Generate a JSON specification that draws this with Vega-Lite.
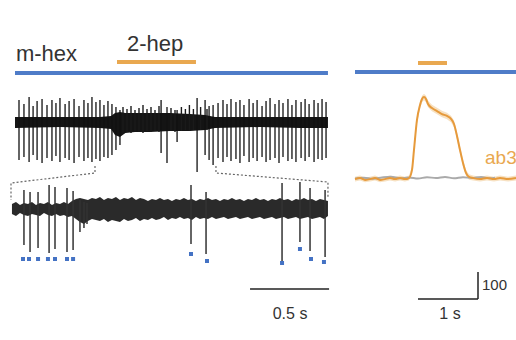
{
  "$schema": "https://vega.github.io/schema/vega-lite/v6.json",
  "padding": 0,
  "spacing": 0,
  "background": "white",
  "config": {"view": {"stroke": null}, "concat": {"spacing": 0}},
  "datasets": {
    "topBand": [
      {"t": 0, "hi": 223, "lo": 212}, {"t": 0.281, "hi": 223, "lo": 213}, {"t": 0.531, "hi": 223, "lo": 212},
      {"t": 0.6, "hi": 224, "lo": 211}, {"t": 0.625, "hi": 227, "lo": 205}, {"t": 0.656, "hi": 228, "lo": 203},
      {"t": 0.69, "hi": 227, "lo": 207}, {"t": 0.75, "hi": 227, "lo": 208}, {"t": 0.844, "hi": 227, "lo": 208},
      {"t": 0.969, "hi": 227, "lo": 209}, {"t": 1.094, "hi": 226, "lo": 209}, {"t": 1.188, "hi": 225, "lo": 210},
      {"t": 1.25, "hi": 223, "lo": 212}, {"t": 1.531, "hi": 223, "lo": 213}, {"t": 1.781, "hi": 223, "lo": 212},
      {"t": 1.956, "hi": 223, "lo": 212}
    ],
    "topSpikes": [
      {"t": 0.025, "hi": 240, "lo": 180}, {"t": 0.056, "hi": 236, "lo": 183}, {"t": 0.088, "hi": 243, "lo": 178},
      {"t": 0.113, "hi": 234, "lo": 185}, {"t": 0.138, "hi": 239, "lo": 180}, {"t": 0.169, "hi": 241, "lo": 177},
      {"t": 0.2, "hi": 235, "lo": 182}, {"t": 0.231, "hi": 240, "lo": 179}, {"t": 0.256, "hi": 237, "lo": 184},
      {"t": 0.281, "hi": 242, "lo": 178}, {"t": 0.313, "hi": 236, "lo": 182}, {"t": 0.338, "hi": 239, "lo": 180},
      {"t": 0.369, "hi": 241, "lo": 177}, {"t": 0.4, "hi": 234, "lo": 183}, {"t": 0.431, "hi": 240, "lo": 179},
      {"t": 0.456, "hi": 237, "lo": 182}, {"t": 0.481, "hi": 243, "lo": 178}, {"t": 0.506, "hi": 238, "lo": 181},
      {"t": 0.531, "hi": 240, "lo": 179}, {"t": 0.556, "hi": 235, "lo": 183}, {"t": 0.581, "hi": 239, "lo": 182},
      {"t": 0.606, "hi": 236, "lo": 185}, {"t": 0.631, "hi": 233, "lo": 190}, {"t": 0.656, "hi": 230, "lo": 195},
      {"t": 0.913, "hi": 240, "lo": 187}, {"t": 0.95, "hi": 233, "lo": 177}, {"t": 1.013, "hi": 230, "lo": 198},
      {"t": 1.138, "hi": 242, "lo": 168}, {"t": 1.188, "hi": 240, "lo": 185}, {"t": 1.213, "hi": 234, "lo": 180},
      {"t": 1.238, "hi": 235, "lo": 175}, {"t": 1.269, "hi": 237, "lo": 182}, {"t": 1.3, "hi": 240, "lo": 178},
      {"t": 1.325, "hi": 236, "lo": 183}, {"t": 1.35, "hi": 241, "lo": 179}, {"t": 1.381, "hi": 238, "lo": 181},
      {"t": 1.406, "hi": 240, "lo": 177}, {"t": 1.431, "hi": 235, "lo": 184}, {"t": 1.463, "hi": 241, "lo": 178},
      {"t": 1.488, "hi": 237, "lo": 182}, {"t": 1.513, "hi": 240, "lo": 179}, {"t": 1.544, "hi": 234, "lo": 183},
      {"t": 1.569, "hi": 239, "lo": 178}, {"t": 1.594, "hi": 242, "lo": 180}, {"t": 1.625, "hi": 236, "lo": 182},
      {"t": 1.65, "hi": 240, "lo": 177}, {"t": 1.675, "hi": 237, "lo": 183}, {"t": 1.706, "hi": 241, "lo": 179},
      {"t": 1.731, "hi": 235, "lo": 181}, {"t": 1.756, "hi": 240, "lo": 178}, {"t": 1.788, "hi": 238, "lo": 182},
      {"t": 1.813, "hi": 241, "lo": 179}, {"t": 1.838, "hi": 236, "lo": 183}, {"t": 1.869, "hi": 240, "lo": 178},
      {"t": 1.894, "hi": 237, "lo": 181}, {"t": 1.919, "hi": 241, "lo": 180}, {"t": 1.944, "hi": 238, "lo": 182}
    ],
    "topSmall": [
      {"t": 0.675, "hi": 233, "lo": 206}, {"t": 0.7, "hi": 231, "lo": 208}, {"t": 0.725, "hi": 234, "lo": 207},
      {"t": 0.75, "hi": 230, "lo": 209}, {"t": 0.775, "hi": 232, "lo": 208}, {"t": 0.8, "hi": 235, "lo": 207},
      {"t": 0.825, "hi": 231, "lo": 209}, {"t": 0.85, "hi": 233, "lo": 208}, {"t": 0.875, "hi": 230, "lo": 209},
      {"t": 0.9, "hi": 234, "lo": 208}, {"t": 0.975, "hi": 232, "lo": 209}, {"t": 1.0, "hi": 230, "lo": 208},
      {"t": 1.04, "hi": 233, "lo": 209}, {"t": 1.065, "hi": 231, "lo": 210}, {"t": 1.09, "hi": 235, "lo": 209},
      {"t": 1.115, "hi": 231, "lo": 210}, {"t": 1.16, "hi": 233, "lo": 210}, {"t": 1.2, "hi": 231, "lo": 210}
    ],
    "botBand": [
      {"t": -0.019, "hi": 136, "lo": 126}, {"t": 0.006, "hi": 138, "lo": 124}, {"t": 0.031, "hi": 135, "lo": 127},
      {"t": 0.056, "hi": 137, "lo": 125}, {"t": 0.081, "hi": 136, "lo": 124}, {"t": 0.106, "hi": 138, "lo": 126},
      {"t": 0.131, "hi": 135, "lo": 125}, {"t": 0.156, "hi": 137, "lo": 124}, {"t": 0.181, "hi": 136, "lo": 127},
      {"t": 0.206, "hi": 138, "lo": 125}, {"t": 0.231, "hi": 135, "lo": 124}, {"t": 0.256, "hi": 137, "lo": 126},
      {"t": 0.281, "hi": 136, "lo": 124}, {"t": 0.306, "hi": 138, "lo": 125}, {"t": 0.331, "hi": 136, "lo": 123},
      {"t": 0.356, "hi": 139, "lo": 124}, {"t": 0.381, "hi": 141, "lo": 121}, {"t": 0.406, "hi": 142, "lo": 118},
      {"t": 0.431, "hi": 141, "lo": 116}, {"t": 0.456, "hi": 140, "lo": 119}, {"t": 0.481, "hi": 142, "lo": 121},
      {"t": 0.506, "hi": 141, "lo": 120}, {"t": 0.531, "hi": 143, "lo": 119}, {"t": 0.556, "hi": 140, "lo": 121},
      {"t": 0.581, "hi": 142, "lo": 118}, {"t": 0.606, "hi": 141, "lo": 120}, {"t": 0.631, "hi": 143, "lo": 119},
      {"t": 0.656, "hi": 140, "lo": 118}, {"t": 0.681, "hi": 142, "lo": 121}, {"t": 0.706, "hi": 141, "lo": 119},
      {"t": 0.731, "hi": 143, "lo": 120}, {"t": 0.756, "hi": 140, "lo": 122}, {"t": 0.781, "hi": 142, "lo": 119},
      {"t": 0.806, "hi": 141, "lo": 121}, {"t": 0.831, "hi": 139, "lo": 120}, {"t": 0.856, "hi": 141, "lo": 122},
      {"t": 0.881, "hi": 140, "lo": 120}, {"t": 0.906, "hi": 142, "lo": 121}, {"t": 0.931, "hi": 140, "lo": 123},
      {"t": 0.956, "hi": 141, "lo": 120}, {"t": 0.981, "hi": 139, "lo": 122}, {"t": 1.006, "hi": 141, "lo": 121},
      {"t": 1.031, "hi": 140, "lo": 123}, {"t": 1.056, "hi": 142, "lo": 121}, {"t": 1.081, "hi": 140, "lo": 122},
      {"t": 1.106, "hi": 141, "lo": 120}, {"t": 1.131, "hi": 139, "lo": 123}, {"t": 1.156, "hi": 141, "lo": 121},
      {"t": 1.181, "hi": 140, "lo": 122}, {"t": 1.206, "hi": 142, "lo": 121}, {"t": 1.231, "hi": 140, "lo": 123},
      {"t": 1.256, "hi": 141, "lo": 121}, {"t": 1.281, "hi": 139, "lo": 122}, {"t": 1.306, "hi": 141, "lo": 123},
      {"t": 1.331, "hi": 140, "lo": 121}, {"t": 1.356, "hi": 142, "lo": 122}, {"t": 1.381, "hi": 140, "lo": 123},
      {"t": 1.406, "hi": 141, "lo": 121}, {"t": 1.431, "hi": 139, "lo": 122}, {"t": 1.456, "hi": 141, "lo": 123},
      {"t": 1.481, "hi": 140, "lo": 121}, {"t": 1.506, "hi": 142, "lo": 122}, {"t": 1.531, "hi": 140, "lo": 123},
      {"t": 1.556, "hi": 141, "lo": 121}, {"t": 1.581, "hi": 139, "lo": 122}, {"t": 1.606, "hi": 141, "lo": 123},
      {"t": 1.631, "hi": 140, "lo": 121}, {"t": 1.656, "hi": 142, "lo": 122}, {"t": 1.681, "hi": 140, "lo": 123},
      {"t": 1.706, "hi": 141, "lo": 121}, {"t": 1.731, "hi": 139, "lo": 122}, {"t": 1.756, "hi": 141, "lo": 123},
      {"t": 1.781, "hi": 140, "lo": 121}, {"t": 1.806, "hi": 142, "lo": 122}, {"t": 1.831, "hi": 140, "lo": 123},
      {"t": 1.856, "hi": 141, "lo": 121}, {"t": 1.881, "hi": 139, "lo": 122}, {"t": 1.906, "hi": 141, "lo": 123},
      {"t": 1.931, "hi": 140, "lo": 121}, {"t": 1.956, "hi": 139, "lo": 124}
    ],
    "botSpikes": [
      {"t": 0.056, "hi": 150, "lo": 95}, {"t": 0.094, "hi": 148, "lo": 88}, {"t": 0.144, "hi": 148, "lo": 92},
      {"t": 0.213, "hi": 155, "lo": 87}, {"t": 0.25, "hi": 153, "lo": 91}, {"t": 0.325, "hi": 152, "lo": 88},
      {"t": 0.363, "hi": 149, "lo": 90}, {"t": 0.406, "hi": 140, "lo": 108}, {"t": 0.431, "hi": 138, "lo": 112},
      {"t": 0.45, "hi": 137, "lo": 116}, {"t": 1.1, "hi": 155, "lo": 96}, {"t": 1.194, "hi": 148, "lo": 86},
      {"t": 1.669, "hi": 157, "lo": 77}, {"t": 1.781, "hi": 158, "lo": 98}, {"t": 1.844, "hi": 152, "lo": 89},
      {"t": 1.938, "hi": 150, "lo": 83}
    ],
    "marks": [
      {"t": 0.05, "level": 81}, {"t": 0.0875, "level": 81}, {"t": 0.144, "level": 81}, {"t": 0.206, "level": 81},
      {"t": 0.25, "level": 81}, {"t": 0.325, "level": 81}, {"t": 0.363, "level": 81}, {"t": 1.1, "level": 86},
      {"t": 1.2, "level": 79}, {"t": 1.669, "level": 77}, {"t": 1.781, "level": 91}, {"t": 1.85, "level": 81},
      {"t": 1.931, "level": 78}
    ],
    "zoomLines": [
      {"path": "left", "o": 1, "t": 0.5, "level": 174}, {"path": "left", "o": 2, "t": 0.5, "level": 167},
      {"path": "left", "o": 3, "t": -0.025, "level": 157}, {"path": "left", "o": 4, "t": -0.025, "level": 140},
      {"path": "right", "o": 1, "t": 1.256, "level": 174}, {"path": "right", "o": 2, "t": 1.256, "level": 167},
      {"path": "right", "o": 3, "t": 1.956, "level": 158}, {"path": "right", "o": 4, "t": 1.956, "level": 143}
    ],
    "stimLeft": [
      {"odor": "m-hex", "t": 0, "t2": 1.956, "level": 267},
      {"odor": "2-hep", "t": 0.6375, "t2": 1.131, "level": 278}
    ],
    "labelsLeft": [
      {"label": "m-hex", "t": 0.006, "level": 279},
      {"label": "2-hep", "t": 0.7, "level": 289}
    ],
    "rateOrange": [
      {"t": 0, "r": 7, "lo": -2, "hi": 16}, {"t": 0.083, "r": 11, "lo": 2, "hi": 20}, {"t": 0.167, "r": 4, "lo": -5, "hi": 13},
      {"t": 0.25, "r": 7, "lo": -2, "hi": 16}, {"t": 0.333, "r": 11, "lo": 2, "hi": 20}, {"t": 0.417, "r": 4, "lo": -5, "hi": 13},
      {"t": 0.5, "r": 7, "lo": -2, "hi": 16}, {"t": 0.583, "r": 11, "lo": 2, "hi": 20}, {"t": 0.667, "r": 7, "lo": -2, "hi": 16},
      {"t": 0.75, "r": 11, "lo": 2, "hi": 20}, {"t": 0.833, "r": 7, "lo": -2, "hi": 16}, {"t": 0.9, "r": 11, "lo": 2, "hi": 20},
      {"t": 0.95, "r": 41, "lo": 30, "hi": 52}, {"t": 0.983, "r": 115, "lo": 100, "hi": 130}, {"t": 1.033, "r": 226, "lo": 212, "hi": 240},
      {"t": 1.083, "r": 281, "lo": 268, "hi": 294}, {"t": 1.117, "r": 304, "lo": 292, "hi": 316}, {"t": 1.15, "r": 311, "lo": 299, "hi": 323},
      {"t": 1.183, "r": 304, "lo": 292, "hi": 316}, {"t": 1.217, "r": 285, "lo": 273, "hi": 297}, {"t": 1.283, "r": 270, "lo": 258, "hi": 282},
      {"t": 1.367, "r": 259, "lo": 247, "hi": 271}, {"t": 1.45, "r": 248, "lo": 236, "hi": 260}, {"t": 1.533, "r": 241, "lo": 229, "hi": 253},
      {"t": 1.6, "r": 230, "lo": 218, "hi": 242}, {"t": 1.65, "r": 211, "lo": 198, "hi": 224}, {"t": 1.7, "r": 167, "lo": 153, "hi": 181},
      {"t": 1.75, "r": 115, "lo": 101, "hi": 129}, {"t": 1.8, "r": 67, "lo": 54, "hi": 80}, {"t": 1.85, "r": 30, "lo": 19, "hi": 41},
      {"t": 1.9, "r": 15, "lo": 5, "hi": 25}, {"t": 1.967, "r": 11, "lo": 2, "hi": 20}, {"t": 2.083, "r": 7, "lo": -2, "hi": 16},
      {"t": 2.2, "r": 11, "lo": 2, "hi": 20}, {"t": 2.317, "r": 7, "lo": -2, "hi": 16}, {"t": 2.417, "r": 11, "lo": 2, "hi": 20},
      {"t": 2.55, "r": 7, "lo": -2, "hi": 16}, {"t": 2.683, "r": 11, "lo": 2, "hi": 20}
    ],
    "rateGray": [
      {"t": 0, "r": 9}, {"t": 0.15, "r": 12}, {"t": 0.3, "r": 8}, {"t": 0.45, "r": 13}, {"t": 0.6, "r": 16},
      {"t": 0.75, "r": 10}, {"t": 0.9, "r": 13}, {"t": 1.05, "r": 9}, {"t": 1.2, "r": 14}, {"t": 1.35, "r": 11},
      {"t": 1.5, "r": 15}, {"t": 1.65, "r": 10}, {"t": 1.8, "r": 14}, {"t": 1.95, "r": 11}, {"t": 2.1, "r": 15},
      {"t": 2.25, "r": 10}, {"t": 2.333, "r": 12}
    ],
    "stimRight": [
      {"odor": "m-hex", "t": 0, "t2": 2.683, "r": 404},
      {"odor": "2-hep", "t": 1.05, "t2": 1.533, "r": 437}
    ]
  },
  "hconcat": [
    {
      "width": 340,
      "height": 340,
      "layer": [
        {
          "data": {"name": "topBand"},
          "mark": {"type": "area", "color": "#141414"},
          "encoding": {
            "x": {"field": "t", "type": "quantitative", "scale": {"domain": [-0.09375, 2.03125], "nice": false, "zero": false}, "axis": null},
            "y": {"field": "hi", "type": "quantitative", "scale": {"domain": [0, 340], "nice": false, "zero": false}, "axis": null},
            "y2": {"field": "lo"}
          }
        },
        {
          "data": {"name": "topSmall"},
          "mark": {"type": "rule", "color": "#1a1a1a", "strokeWidth": 1.4},
          "encoding": {
            "x": {"field": "t", "type": "quantitative"},
            "y": {"field": "hi", "type": "quantitative"},
            "y2": {"field": "lo"}
          }
        },
        {
          "data": {"name": "topSpikes"},
          "mark": {"type": "rule", "color": "#111111", "strokeWidth": 1.3},
          "encoding": {
            "x": {"field": "t", "type": "quantitative"},
            "y": {"field": "hi", "type": "quantitative"},
            "y2": {"field": "lo"}
          }
        },
        {
          "data": {"name": "botBand"},
          "mark": {"type": "area", "color": "#2a2a2a"},
          "encoding": {
            "x": {"field": "t", "type": "quantitative"},
            "y": {"field": "hi", "type": "quantitative"},
            "y2": {"field": "lo"}
          }
        },
        {
          "data": {"name": "botSpikes"},
          "mark": {"type": "rule", "color": "#333333", "strokeWidth": 1.5},
          "encoding": {
            "x": {"field": "t", "type": "quantitative"},
            "y": {"field": "hi", "type": "quantitative"},
            "y2": {"field": "lo"}
          }
        },
        {
          "data": {"name": "marks"},
          "mark": {"type": "point", "shape": "square", "filled": true, "size": 16, "color": "#4472C4", "opacity": 1},
          "encoding": {
            "x": {"field": "t", "type": "quantitative"},
            "y": {"field": "level", "type": "quantitative"}
          }
        },
        {
          "data": {"name": "zoomLines"},
          "mark": {"type": "line", "color": "#666666", "strokeWidth": 1.2, "strokeDash": [2, 2]},
          "encoding": {
            "x": {"field": "t", "type": "quantitative"},
            "y": {"field": "level", "type": "quantitative"},
            "detail": {"field": "path"},
            "order": {"field": "o", "type": "quantitative"}
          }
        },
        {
          "data": {"name": "stimLeft"},
          "mark": {"type": "rule", "strokeWidth": 4},
          "encoding": {
            "x": {"field": "t", "type": "quantitative"},
            "x2": {"field": "t2"},
            "y": {"field": "level", "type": "quantitative"},
            "color": {"field": "odor", "type": "nominal", "scale": {"domain": ["m-hex", "2-hep"], "range": ["#4F7CC8", "#E9A850"]}, "legend": null}
          }
        },
        {
          "data": {"name": "labelsLeft"},
          "mark": {"type": "text", "align": "left", "baseline": "alphabetic", "font": "Liberation Sans", "fontSize": 22, "color": "#333333"},
          "encoding": {
            "x": {"field": "t", "type": "quantitative"},
            "y": {"field": "level", "type": "quantitative"},
            "text": {"field": "label"}
          }
        },
        {
          "data": {"values": [{"t": 1.469, "t2": 1.963, "level": 51}]},
          "mark": {"type": "rule", "color": "#222222", "strokeWidth": 1.5},
          "encoding": {
            "x": {"field": "t", "type": "quantitative"},
            "x2": {"field": "t2"},
            "y": {"field": "level", "type": "quantitative"}
          }
        },
        {
          "data": {"values": [{"t": 1.719, "level": 21, "label": "0.5 s"}]},
          "mark": {"type": "text", "align": "center", "baseline": "alphabetic", "font": "Liberation Sans", "fontSize": 16, "color": "#333333"},
          "encoding": {
            "x": {"field": "t", "type": "quantitative"},
            "y": {"field": "level", "type": "quantitative"},
            "text": {"field": "label"}
          }
        }
      ]
    },
    {
      "width": 176,
      "height": 340,
      "layer": [
        {
          "data": {"name": "rateOrange"},
          "mark": {"type": "area", "color": "#E9A850", "opacity": 0.35},
          "encoding": {
            "x": {"field": "t", "type": "quantitative", "scale": {"domain": [-0.25, 2.6833], "nice": false, "zero": false}, "axis": null},
            "y": {"field": "hi", "type": "quantitative", "scale": {"domain": [-588.9, 670.4], "nice": false, "zero": false}, "axis": null},
            "y2": {"field": "lo"}
          }
        },
        {
          "data": {"name": "rateGray"},
          "mark": {"type": "line", "color": "#AAAAAA", "strokeWidth": 2, "interpolate": "monotone"},
          "encoding": {
            "x": {"field": "t", "type": "quantitative"},
            "y": {"field": "r", "type": "quantitative"}
          }
        },
        {
          "data": {"name": "rateOrange"},
          "mark": {"type": "line", "color": "#E69A3C", "strokeWidth": 2, "interpolate": "monotone"},
          "encoding": {
            "x": {"field": "t", "type": "quantitative"},
            "y": {"field": "r", "type": "quantitative"}
          }
        },
        {
          "data": {"name": "stimRight"},
          "mark": {"type": "rule", "strokeWidth": 4},
          "encoding": {
            "x": {"field": "t", "type": "quantitative"},
            "x2": {"field": "t2"},
            "y": {"field": "r", "type": "quantitative"},
            "color": {"field": "odor", "type": "nominal", "scale": {"domain": ["m-hex", "2-hep"], "range": ["#4F7CC8", "#E9A850"]}, "legend": null}
          }
        },
        {
          "data": {"values": [
            {"t": 1.05, "t2": 2.05, "r": -437, "r2": -437},
            {"t": 2.05, "t2": 2.05, "r": -437, "r2": -337}
          ]},
          "mark": {"type": "rule", "color": "#222222", "strokeWidth": 1.5},
          "encoding": {
            "x": {"field": "t", "type": "quantitative"},
            "x2": {"field": "t2"},
            "y": {"field": "r", "type": "quantitative"},
            "y2": {"field": "r2"}
          }
        },
        {
          "data": {"values": [{"t": 1.583, "r": -511, "label": "1 s"}]},
          "mark": {"type": "text", "align": "center", "baseline": "alphabetic", "font": "Liberation Sans", "fontSize": 16, "color": "#333333"},
          "encoding": {
            "x": {"field": "t", "type": "quantitative"},
            "y": {"field": "r", "type": "quantitative"},
            "text": {"field": "label"}
          }
        },
        {
          "data": {"values": [{"t": 2.117, "r": -404, "label": "100"}]},
          "mark": {"type": "text", "align": "left", "baseline": "alphabetic", "font": "Liberation Sans", "fontSize": 15, "color": "#333333"},
          "encoding": {
            "x": {"field": "t", "type": "quantitative"},
            "y": {"field": "r", "type": "quantitative"},
            "text": {"field": "label"}
          }
        },
        {
          "data": {"values": [{"t": 2.167, "r": 63, "label": "ab3"}]},
          "mark": {"type": "text", "align": "left", "baseline": "alphabetic", "font": "Liberation Sans", "fontSize": 19, "color": "#E9A850"},
          "encoding": {
            "x": {"field": "t", "type": "quantitative"},
            "y": {"field": "r", "type": "quantitative"},
            "text": {"field": "label"}
          }
        }
      ]
    }
  ]
}
